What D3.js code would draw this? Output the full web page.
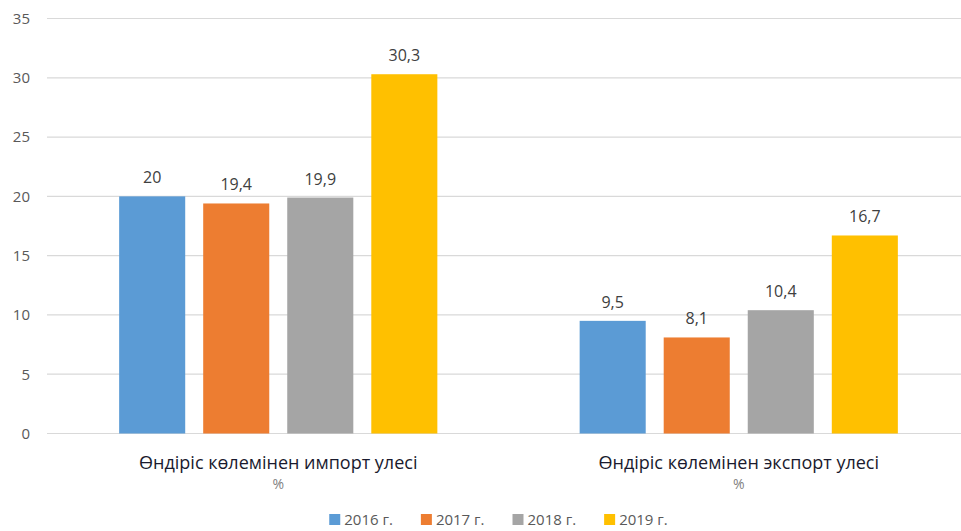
<!DOCTYPE html>
<html>
<head>
<meta charset="utf-8">
<script src="https://cdn.jsdelivr.net/npm/d3@7"></script>
<style>
  body { margin: 0; background: #fff; }
  text { font-family: "Open Sans", sans-serif; }
</style>
</head>
<body>
<div id="chart"></div>
<script>
// chart data
var categories = ["Өндіріс көлемінен импорт улесі", "Өндіріс көлемінен экспорт улесі"];
var unitLabel = "%";
var years = ["2016 г.", "2017 г.", "2018 г.", "2019 г."];
var values2016 = [20, 9.5];
var values2017 = [19.4, 8.1];
var values2018 = [19.9, 10.4];
var values2019 = [30.3, 16.7];
var yTicks = [0, 5, 10, 15, 20, 25, 30, 35];
var colors = ["#5B9BD5", "#ED7D31", "#A5A5A5", "#FFC000"];

var series = [values2016, values2017, values2018, values2019];

var svgWidth = 961;
var svgHeight = 531;

var svg = d3.select("#chart")
    .append("svg")
    .attr("width", svgWidth)
    .attr("height", svgHeight);

// scales
var x0 = d3.scaleBand()
    .domain(categories)
    .range([48, 969])
    .paddingInner(0.309)
    .paddingOuter(0.1545);

var x1 = d3.scaleBand()
    .domain(years)
    .range([0, x0.bandwidth()])
    .paddingInner(0.214)
    .paddingOuter(0);

var y = d3.scaleLinear()
    .domain([0, 35])
    .range([433.5, 18.5]);

var color = d3.scaleOrdinal().domain(years).range(colors);

// gridlines
svg.append("g")
    .selectAll("line")
    .data(yTicks)
    .enter()
    .append("line")
    .attr("x1", 47)
    .attr("x2", svgWidth)
    .attr("y1", d => y(d))
    .attr("y2", d => y(d))
    .attr("stroke", "#D9D9D9")
    .attr("stroke-width", 1.2);

// y axis labels
var leftAxis = d3.axisLeft(y).tickValues(yTicks).tickSize(0).tickPadding(0);
var yAxisG = svg.append("g")
    .attr("transform", "translate(30,0)")
    .call(leftAxis);
yAxisG.select(".domain").remove();
yAxisG.selectAll("text")
    .attr("font-family", "Open Sans")
    .attr("font-size", "15px")
    .attr("fill", "#595959");

// flatten rows
var rows = [];
categories.forEach(function (cat, ci) {
    years.forEach(function (yr, si) {
        rows.push({ cat: cat, year: yr, value: series[si][ci] });
    });
});

// bars
svg.append("g")
    .selectAll("rect")
    .data(rows)
    .enter()
    .append("rect")
    .attr("x", d => x0(d.cat) + x1(d.year))
    .attr("y", d => y(d.value))
    .attr("width", x1.bandwidth())
    .attr("height", d => y(0) - y(d.value))
    .attr("fill", d => color(d.year));

// value labels
svg.append("g")
    .selectAll("text")
    .data(rows)
    .enter()
    .append("text")
    .attr("x", d => x0(d.cat) + x1(d.year) + x1.bandwidth() / 2)
    .attr("y", d => y(d.value) - 13)
    .attr("text-anchor", "middle")
    .attr("font-size", "16px")
    .attr("fill", "#404040")
    .text(d => String(d.value).replace(".", ","));

// category labels
var catG = svg.append("g")
    .selectAll("g")
    .data(categories)
    .enter()
    .append("g")
    .attr("transform", d => `translate(${x0(d) + x0.bandwidth() / 2},0)`);

catG.append("text")
    .attr("y", 469)
    .attr("text-anchor", "middle")
    .attr("font-size", "18px")
    .attr("fill", "#1a1a2e")
    .text(d => d);

catG.append("text")
    .attr("y", 489)
    .attr("text-anchor", "middle")
    .attr("font-size", "14px")
    .attr("fill", "#7F7F7F")
    .text(unitLabel);

// legend
var legend = svg.append("g");
var legendItems = legend.selectAll("g")
    .data(years)
    .enter()
    .append("g");

legendItems.append("rect")
    .attr("width", 11)
    .attr("height", 11)
    .attr("y", -11)
    .attr("fill", d => color(d));

legendItems.append("text")
    .attr("x", 15)
    .attr("font-size", "15px")
    .attr("fill", "#595959")
    .text(d => d);

var gap = 28;
var offset = 0;
legendItems.each(function () {
    d3.select(this).attr("transform", `translate(${offset},0)`);
    offset += this.getBBox().width + gap;
});
offset -= gap;
legend.attr("transform", `translate(${(svgWidth - offset) / 2 + 18},525)`);
</script>
</body>
</html>
